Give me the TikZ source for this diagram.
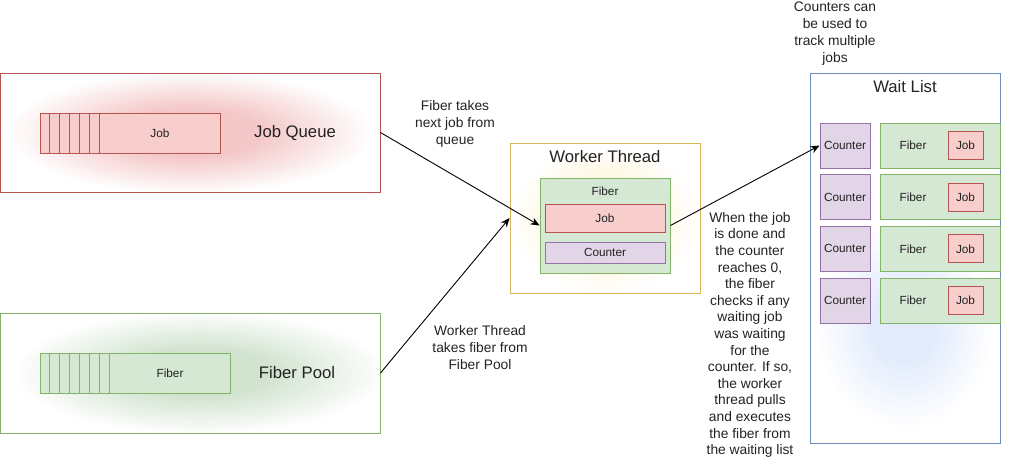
\documentclass[tikz,border=0pt]{standalone}
\usepackage{fontspec}
\setmainfont{Liberation Sans}
\usetikzlibrary{arrows.meta}
\definecolor{redF}{HTML}{F8CECC}
\definecolor{redS}{HTML}{B85450}
\definecolor{greenF}{HTML}{D5E8D4}
\definecolor{greenS}{HTML}{82B366}
\definecolor{purpleF}{HTML}{E1D5E7}
\definecolor{purpleS}{HTML}{9673A6}
\definecolor{yellowS}{HTML}{D6B656}
\definecolor{blueS}{HTML}{6C8EBF}
\definecolor{glowR}{HTML}{F4C8C8}
\definecolor{glowG}{HTML}{D2E4D0}
\definecolor{glowY}{HTML}{FFF4D6}
\definecolor{glowB}{HTML}{E2EBFC}
\definecolor{txt}{HTML}{222222}
\newcommand\myglow[5]{%
  \foreach \s in {40,...,1}{%
    \pgfmathsetmacro\pc{min(100,max(0,(1-\s/40)/#5*100))}%
    \fill[#4!\pc!white] (#1) ellipse [x radius={#2*\s/40}, y radius={#3*\s/40}];%
  }}
\begin{document}
\begin{tikzpicture}[x=1pt,y=-1pt,
  box/.style={draw, line width=0.9pt, inner sep=0pt, text=txt, font=\fontsize{11.8}{14}\selectfont},
  redbox/.style={box, draw=redS, fill=redF},
  greenbox/.style={box, draw=greenS, fill=greenF},
  purplebox/.style={box, draw=purpleS, fill=purpleF},
  container/.style={draw, line width=0.9pt, inner sep=0pt},
  small/.style={inner sep=0pt, text=txt, font=\fontsize{11.8}{14}\selectfont},
  title/.style={inner sep=0pt, text=txt, font=\fontsize{16.7}{20}\selectfont},
  note/.style={inner sep=0pt, align=center, text=txt, font=\fontsize{13.8}{17}\selectfont},
  arrow/.style={-{Stealth[length=9pt,width=7.5pt]}, line width=0.9pt, black}]
\useasboundingbox (0,0) rectangle (1011,464);

% glows
\myglow{190,133}{185}{62}{glowR}{0.6}
\myglow{200,373}{190}{62}{glowG}{0.6}
\myglow{605,220}{95}{75}{glowY}{0.6}
\myglow{905,325}{90}{105}{glowB}{0.65}

% Job Queue
\node[container, draw=redS, minimum width=380, minimum height=119] (jq) at (190,132.5) {};
\node[redbox, minimum width=180, minimum height=40] (jqbox) at (130,133) {};
\foreach \k in {1,...,6}
  \draw[redS, line width=0.9pt] ([xshift=\k*10pt]jqbox.north west) -- ([xshift=\k*10pt]jqbox.south west);
\node[small] (jqlabel) at (160,133) {Job};
\node[title] (jqtitle) at (295,133) {Job Queue};

% Fiber Pool
\node[container, draw=greenS, minimum width=380, minimum height=120] (fp) at (190,373) {};
\node[greenbox, minimum width=190, minimum height=40] (fpbox) at (135,373) {};
\foreach \k in {1,...,7}
  \draw[greenS, line width=0.9pt] ([xshift=\k*10pt]fpbox.north west) -- ([xshift=\k*10pt]fpbox.south west);
\node[small] (fplabel) at (170,373) {Fiber};
\node[title] (fptitle) at (297,373) {Fiber Pool};

% Worker Thread
\node[container, draw=yellowS, minimum width=190, minimum height=150] (wt) at (605,218) {};
\node[title] (wttitle) at (605,157) {Worker Thread};
\node[greenbox, minimum width=130, minimum height=95] (fb) at (605,225.5) {};
\node[small] (fblabel) at (605,191) {Fiber};
\node[redbox, minimum width=120, minimum height=28] (wjob) at (605,218) {Job};
\node[purplebox, minimum width=120, minimum height=21] (wcnt) at (605,252.5) {Counter};

% Wait List
\node[container, draw=blueS, minimum width=190, minimum height=370] (wl) at (905,258) {};
\node[title] (wltitle) at (905,87) {Wait List};
\foreach \i/\y in {1/145.5, 2/197.2, 3/248.8, 4/300.5} {
  \node[purplebox, minimum width=50, minimum height=45] (c\i) at (845,\y) {Counter};
  \node[greenbox, minimum width=120, minimum height=45] (f\i) at (940,\y) {};
  \node[small] (fl\i) at (913,\y) {Fiber};
  \node[redbox, minimum width=35, minimum height=28] (j\i) at (965.5,\y) {Job};
}

% connectors
\draw[arrow] (jq.east) -- (fb.west);
\draw[arrow] (fp.east) -- (wt.west);
\draw[arrow] (fb.east) -- (c1.west);

% notes
\node[note] (n1) at (455,124) {Fiber takes\\next job from\\queue};
\node[note] (n2) at (480,348) {Worker Thread\\takes fiber from\\Fiber Pool};
\node[note] (n3) at (835,34) {Counters can\\be used to\\track multiple\\jobs};
\node[note, font=\fontsize{13.8}{16.6}\selectfont] (n4) at (750,335) {When the job\\is done and\\the counter\\reaches 0,\\the fiber\\checks if any\\waiting job\\was waiting\\for the\\counter. If so,\\the worker\\thread pulls\\and executes\\the fiber from\\the waiting list};
\end{tikzpicture}
\end{document}
